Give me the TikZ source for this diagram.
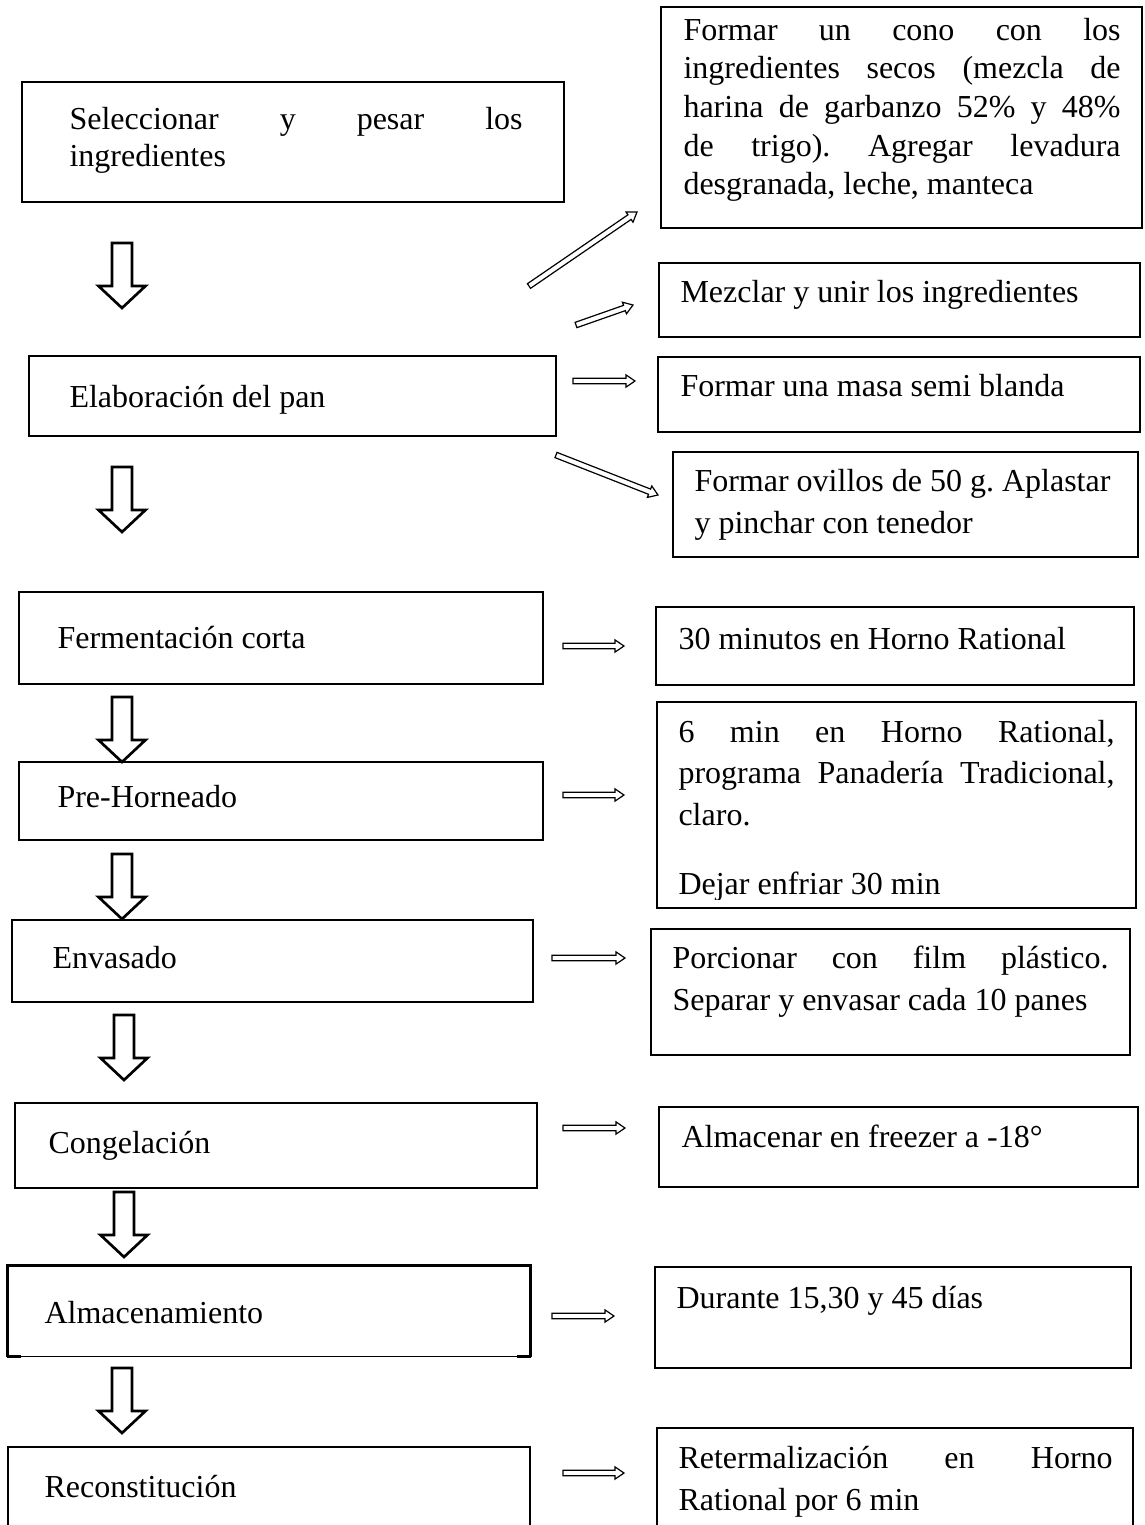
\documentclass[tikz,border=0pt]{standalone}
\usepackage{fontspec}
\setmainfont{Liberation Serif}
\usetikzlibrary{calc,fit}
\hbadness=10000
\hyphenpenalty=10000
\exhyphenpenalty=10000
\tikzset{
  x=0.375pt, y=-0.375pt,
  stepbox/.style={draw, line width=1.1pt, inner sep=0pt},
  notebox/.style={draw, line width=0.6pt, inner sep=0pt},
  plainbox/.style={inner sep=0pt},
  txt/.style={anchor=base west, inner sep=0pt, font={\fontsize{12pt}{14.5pt}\selectfont}},
  jtxt/.style 2 args={txt, text width=#1, align=justify, font={\fontsize{12pt}{#2}\selectfont}},
  bigarrow/.style={draw, line width=1pt, line join=miter},
  thinarrow/.style={draw, line width=0.45pt, line join=miter},
}
% box from corner coordinates
\newcommand\boxat[6]{%
  \path (#2,#3) coordinate (#1-nw) (#4,#5) coordinate (#1-se);
  \node[#6, fit=(#1-nw)(#1-se)] (#1) {};}
% big hollow down arrow
\newcommand\bigdown[3]{%
  \coordinate (#1) at (#2,#3);
  \draw[bigarrow] (#1) ++(-10,0) -- ++(20,0) -- ++(0,43) -- ++(13.5,0)
     -- ++(-23.5,22) -- ++(-23.5,-22) -- ++(13.5,0) -- cycle;}
% thin hollow side arrow from #2 to #3
\newcommand\sidearrow[3]{%
  \coordinate (#1h) at ($(#3)!3.4pt!(#2)$);
  \draw[thinarrow] ($(#2)!1.05pt!90:(#3)$) -- ($(#1h)!1.05pt!90:(#3)$)
     -- ($(#1h)!2.3pt!90:(#3)$) -- (#3) -- ($(#1h)!2.3pt!-90:(#3)$)
     -- ($(#1h)!1.05pt!-90:(#3)$) -- ($(#2)!1.05pt!-90:(#3)$) -- cycle;}
\begin{document}
\frenchspacing
\begin{tikzpicture}
\clip (0,0) rectangle (1144,1525);
\fill[white] (0,0) rectangle (1144,1525);

% ---------- left column ----------
\boxat{b1}{22}{82}{564}{202}{stepbox}
\node[jtxt={169.9pt}{13.9pt}] (t1) at (69,129) {Seleccionar y pesar los\linebreak ingredientes};

\boxat{b2}{29}{356}{556}{436}{stepbox}
\node[txt] (t2) at (69,407) {Elaboración del pan};

\boxat{b3}{19}{592}{543}{684}{stepbox}
\node[txt] (t3) at (57,648) {Fermentación corta};

\boxat{b4}{19}{762}{543}{840}{stepbox}
\node[txt] (t4) at (57,807) {Pre-Horneado};

\boxat{b5}{12}{920}{533}{1002}{stepbox}
\node[txt] (t5) at (52,968) {Envasado};

\boxat{b6}{15}{1103}{537}{1188}{stepbox}
\node[txt] (t6) at (48,1153) {Congelación};

\boxat{b7}{8}{1266}{530}{1356}{plainbox}
\draw[line width=1.1pt] (b7.south west) -- (b7.north west) -- (b7.north east) -- (b7.south east);
\draw[line width=0.6pt] (b7.south west) -- (b7.south east);
\draw[line width=1.1pt] (b7.south west) -- ++(14,0) (b7.south east) -- ++(-14,0);
\node[txt] (t7) at (44,1323) {Almacenamiento};

\boxat{b8}{8}{1447}{530}{1560}{stepbox}
\node[txt] (t8) at (44,1497) {Reconstitución};

% down arrows
\bigdown{d1}{122}{243}
\bigdown{d2}{122}{467}
\bigdown{d3}{122}{697}
\bigdown{d4}{122}{854}
\bigdown{d5}{124}{1015}
\bigdown{d6}{124}{1192}
\bigdown{d7}{122}{1368}

% ---------- right column ----------
\boxat{r1}{661}{7}{1142}{228}{notebox}
\node[jtxt={163.9pt}{14.5pt}] (u1) at (683,40) {Formar un cono con los\linebreak ingredientes secos (mezcla de\linebreak harina de garbanzo\  52\% y 48\%\linebreak de trigo). Agregar levadura\linebreak desgranada, leche, manteca};

\boxat{r2}{659}{263}{1140}{337}{notebox}
\node[txt] (u2) at (680,302) {Mezclar y unir los ingredientes};

\boxat{r3}{658}{357}{1140}{432}{notebox}
\node[txt] (u3) at (680,396) {Formar una masa semi blanda};

\boxat{r4}{673}{452}{1138}{557}{notebox}
\node[jtxt={180pt}{15.75pt}] (u4) at (694,491) {Formar ovillos de 50 g. Aplastar\\ y pinchar con tenedor};

\boxat{r5}{656}{607}{1134}{685}{notebox}
\node[txt] (u5) at (678,649) {30 minutos en Horno Rational};

\boxat{r6}{657}{702}{1136}{908}{notebox}
\node[jtxt={163.5pt}{15.6pt}] (u6) at (678,742) {6 min en Horno Rational,\linebreak programa Panadería Tradicional,\linebreak claro.};
\begin{scope}
\clip (657,702) rectangle (1136,899);
\node[txt] (u6b) at (678,894) {Dejar enfriar 30 min};
\end{scope}

\boxat{r7}{651}{929}{1130}{1055}{notebox}
\node[jtxt={163.5pt}{16.1pt}] (u7) at (672,968) {Porcionar con film plástico.\linebreak Separar y envasar cada 10 panes};

\boxat{r8}{659}{1107}{1138}{1187}{notebox}
\node[txt] (u8) at (681,1147) {Almacenar en freezer a -18°};

\boxat{r9}{655}{1267}{1131}{1368}{notebox}
\node[txt] (u9) at (676,1308) {Durante 15,30 y 45 días};

\boxat{r10}{657}{1428}{1133}{1560}{notebox}
\node[jtxt={162.8pt}{15.75pt}] (u10) at (678,1468) {Retermalización en Horno\linebreak Rational por 6 min};

% ---------- side arrows ----------
\path (529,286) coordinate (a1s) (637,212) coordinate (a1e);
\path (576,325) coordinate (a2s) (633,305) coordinate (a2e);
\path (573,381) coordinate (a3s) (635,381) coordinate (a3e);
\path (556,455) coordinate (a4s) (658,495) coordinate (a4e);
\path (563,646) coordinate (a5s) (624,646) coordinate (a5e);
\path (563,795) coordinate (a6s) (624,795) coordinate (a6e);
\path (552,958) coordinate (a7s) (625,958) coordinate (a7e);
\path (563,1128) coordinate (a8s) (625,1128) coordinate (a8e);
\path (552,1316) coordinate (a9s) (614,1316) coordinate (a9e);
\path (563,1473) coordinate (a10s) (624,1473) coordinate (a10e);
\sidearrow{a1}{a1s}{a1e}
\sidearrow{a2}{a2s}{a2e}
\sidearrow{a3}{a3s}{a3e}
\sidearrow{a4}{a4s}{a4e}
\sidearrow{a5}{a5s}{a5e}
\sidearrow{a6}{a6s}{a6e}
\sidearrow{a7}{a7s}{a7e}
\sidearrow{a8}{a8s}{a8e}
\sidearrow{a9}{a9s}{a9e}
\sidearrow{a10}{a10s}{a10e}
\end{tikzpicture}
\end{document}
